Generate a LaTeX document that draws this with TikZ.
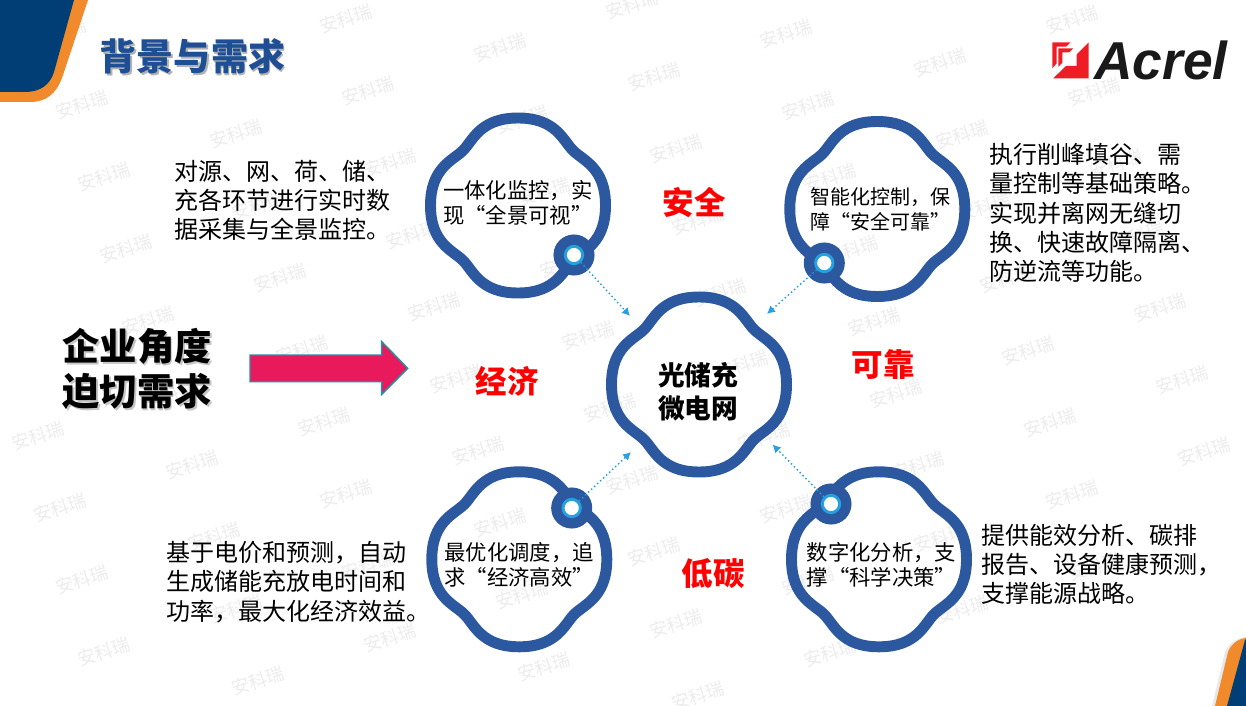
\documentclass[tikz,border=0pt]{standalone}
\usepackage{fontspec}
\setmainfont{Noto Sans CJK SC}
\newfontfamily\logofont{Liberation Sans}
\usetikzlibrary{arrows.meta, positioning, calc}
\definecolor{cloudblue}{RGB}{44, 88, 160}
\definecolor{skyblue}{RGB}{38, 160, 222}
\definecolor{navyblue}{RGB}{2, 62, 118}
\definecolor{cornerorange}{RGB}{240, 138, 42}
\definecolor{titleblue}{RGB}{30, 78, 148}
\definecolor{arrowpink}{RGB}{233, 26, 92}
\definecolor{arrowteal}{RGB}{42, 140, 168}
\definecolor{logored}{RGB}{238, 28, 37}
\newcommand{\shadowtxt}[2]{\leavevmode\rlap{\kern1.4pt\raisebox{-1.4pt}{\textcolor{#1}{#2}}}#2}

\begin{document}
\begin{tikzpicture}[
    x=0.75pt, y=-0.75pt,
    watermark/.style={font=\fontsize{13.5}{16}\selectfont, text=gray!15, rotate=18, inner sep=0pt},
    titletext/.style={font=\fontsize{27.8}{32}\selectfont\bfseries, text=titleblue, inner sep=0pt},
    needtext/.style={font=\fontsize{28}{33.75}\selectfont\bfseries, align=center, inner sep=0pt},
    bodytext/.style={font=\fontsize{18}{22}\selectfont, align=left, anchor=west, inner sep=0pt},
    cloudtext/.style={font=\fontsize{16}{18.75}\selectfont, align=left, anchor=west, inner sep=0pt},
    hubtext/.style={font=\fontsize{20}{24.75}\selectfont\bfseries, align=center, inner sep=0pt},
    redlabel/.style={font=\fontsize{23.6}{28}\selectfont\bfseries, text=red, inner sep=0pt},
    hubouter/.style={circle, fill=cloudblue, minimum size=30.8pt, inner sep=0pt},
    hubdot/.style={circle, draw=skyblue, fill=white, line width=2.2pt, minimum size=13pt, inner sep=0pt},
    arrow/.style={-{Latex[length=6pt, width=6.5pt]}, skyblue, line width=1.1pt, dotted},
    cloud/.pic={
        \draw[cloudblue, line width=8.2pt, line join=round]
            (0,-87.5) .. controls (-38,-87.5) and (-45,-65) .. (-55,-55)
            .. controls (-65,-45) and (-87.5,-38) .. (-87.5,0)
            .. controls (-87.5,38) and (-65,45) .. (-55,55)
            .. controls (-45,65) and (-38,87.5) .. (0,87.5)
            .. controls (38,87.5) and (45,65) .. (55,55)
            .. controls (65,45) and (87.5,38) .. (87.5,0)
            .. controls (87.5,-38) and (65,-45) .. (55,-55)
            .. controls (45,-65) and (38,-87.5) .. (0,-87.5) -- cycle;
    }
]
\useasboundingbox (0,0) rectangle (1246,706);

% Watermarks
\foreach \i in {-8,...,10} {
    \foreach \j in {-8,...,10} {
        \pgfmathsetmacro\wx{82+154*\i+132*\j}
        \pgfmathsetmacro\wy{105+29*\i-43*\j}
        \pgfmathtruncatemacro\wshow{and(and(\wx>25,\wx<1222),and(\wy>3,\wy<703))}
        \ifnum\wshow=1
            \node[watermark] (wm\i\j) at (\wx,\wy) {安科瑞};
        \fi
    }
}

% Corners
\fill[cornerorange] (0,0) -- (88,0) -- (62,78) .. controls (56,94) and (46,102) .. (30,102) -- (0,102) -- cycle;
\fill[navyblue] (0,0) -- (74,0) -- (54,72) .. controls (50,85) and (40,92) .. (25,92) -- (0,92) -- cycle;
\fill[gray!18] (1212,706) -- (1225,652) .. controls (1228,644) and (1236,638) .. (1246,637) -- (1246,706) -- cycle;
\fill[cornerorange] (1215,706) -- (1228,652) .. controls (1231,644) and (1238,639) .. (1246,638) -- (1246,706) -- cycle;
\fill[navyblue] (1227,706) -- (1245,640) -- (1246,639) -- (1246,706) -- cycle;

% Title and logo
\node (title) [titletext] at (192.5,57) {\shadowtxt{gray!60}{背景与需求}};
\fill[logored] (1088.7,42.3) -- (1088.7,78.3) -- (1053.3,78.3) -- (1066,66) -- (1076.7,66) -- (1076.7,54.3) -- cycle;
\fill[logored] (1052.3,42.3) -- (1070.7,42.3) -- (1066,46.7) -- (1056.7,46.7) -- (1056.7,63.3) -- (1052.3,68.3) -- cycle;
\fill[logored] (1058.3,48.3) -- (1073.3,48.3) -- (1069.3,52.3) -- (1062.3,52.3) -- (1062.3,62.7) -- (1058.3,66.7) -- cycle;
\node (logo) [font=\logofont\fontsize{40}{44}\selectfont\bfseries\itshape, text=black!90, inner sep=0pt] at (1161,60) {Acrel};

% Left side
\node (need) [needtext] at (137,369.5) {\shadowtxt{gray!45}{企业角度}\\\shadowtxt{gray!45}{迫切需求}};
\draw[draw=arrowteal, fill=arrowpink, line width=1.1pt] (250,355) -- (381.7,355) -- (381.7,341.7) -- (407.7,368.3) -- (381.7,394.3) -- (381.7,381.7) -- (250,381.7) -- cycle;

% Clouds
\pic at (518,205.5) {cloud};
\pic at (877.3,209) {cloud};
\pic at (699,384.5) {cloud};
\pic at (519.3,559.3) {cloud};
\pic at (879,559.3) {cloud};

% Cloud texts
\node (c_monitor) [cloudtext] at (443,202.5) {一体化监控，实\\现“全景可视”};
\node (c_control) [cloudtext, font=\fontsize{15}{18.75}\selectfont] at (810,209.5) {智能化控制，保\\障“安全可靠”};
\node (c_center) [hubtext] at (698,391.5) {光储充\\微电网};
\node (c_dispatch) [cloudtext] at (444.3,565) {最优化调度，追\\求“经济高效”};
\node (c_analysis) [cloudtext] at (806.7,564.5) {数字化分析，支\\撑“科学决策”};

% Outer texts
\node (t_monitor) [bodytext] at (174,200.5) {对源、网、荷、储、\\充各环节进行实时数\\据采集与全景监控。};
\node (t_control) [bodytext] at (989,213) {执行削峰填谷、需\\量控制等基础策略。\\实现并离网无缝切\\换、快速故障隔离、\\防逆流等功能。};
\node (t_dispatch) [bodytext] at (166,582) {基于电价和预测，自动\\生成储能充放电时间和\\功率，最大化经济效益。};
\node (t_analysis) [bodytext] at (981,564.5) {提供能效分析、碳排\\报告、设备健康预测，\\支撑能源战略。};

% Red labels
\node (l_safe) [redlabel] at (694,203) {安全};
\node (l_reliable) [redlabel] at (883,365) {可靠};
\node (l_economy) [redlabel] at (507,381) {经济};
\node (l_carbon) [redlabel] at (713,574) {低碳};

% Hubs
\foreach \name/\hx/\hy in {ha/574/255, hb/824.3/263, hc/571.7/508, hd/831/504} {
    \node (\name o) [hubouter] at (\hx,\hy) {};
    \node (\name) [hubdot] at (\hx,\hy) {};
}

% Arrows
\coordinate (tipa) at (630,316);
\coordinate (tipb) at (767,314);
\coordinate (tipc) at (631,452);
\coordinate (tipd) at (772.5,444.5);
\draw [arrow] (ha) -- (tipa);
\draw [arrow] (hb) -- (tipb);
\draw [arrow] (hc) -- (tipc);
\draw [arrow] (hd) -- (tipd);

\end{tikzpicture}
\end{document}
